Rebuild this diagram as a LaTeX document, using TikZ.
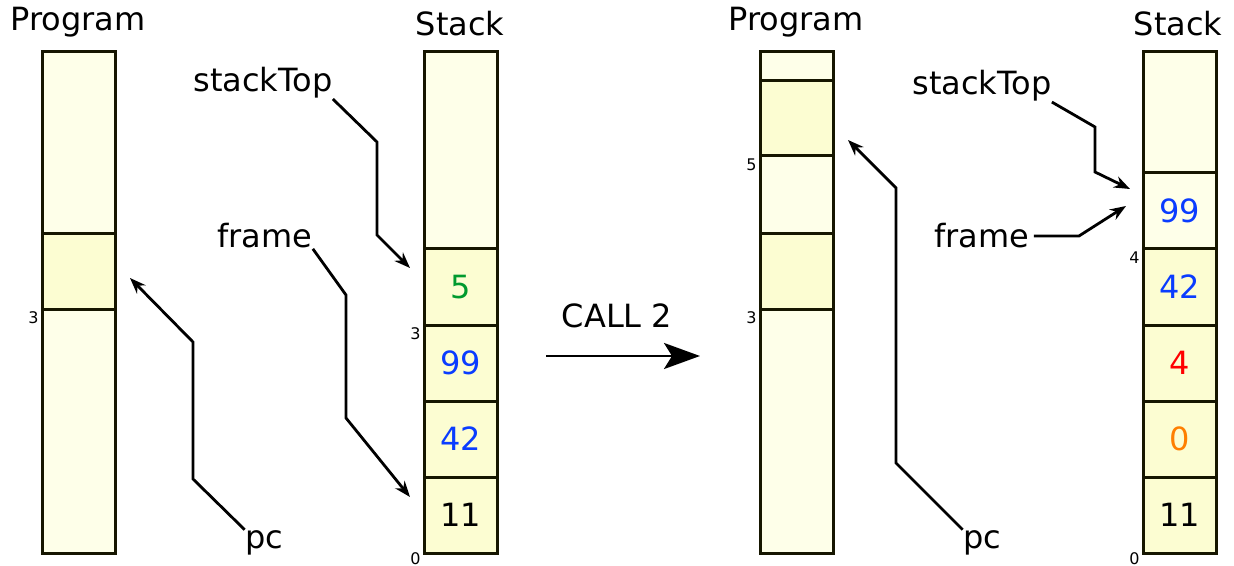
\documentclass[tikz,border=0pt]{standalone}
\usepackage{fontspec}
\setmainfont{DejaVu Sans}
\usetikzlibrary{arrows.meta,positioning}
\definecolor{slotpale}{HTML}{FEFFE9}
\definecolor{slotfill}{HTML}{FCFDD2}
\definecolor{slotline}{HTML}{161600}
\definecolor{valgreen}{HTML}{009A2E}
\definecolor{valblue}{HTML}{0A3CFF}
\definecolor{valred}{HTML}{FF0000}
\definecolor{valorange}{HTML}{FF7F00}

\begin{document}
\begin{tikzpicture}[x=0.5pt,y=-0.5pt,
    bar/.style={fill=slotpale,draw=slotline,line width=1.5pt},
    band/.style={fill=slotfill,draw=slotline,line width=1.5pt},
    cell/.style={fill=slotfill,draw=slotline,line width=1.5pt,minimum width=36.5pt,
        minimum height=38pt,inner sep=0pt,font=\fontsize{16}{19}\selectfont},
    title/.style={anchor=base,inner sep=0pt,font=\fontsize{16}{19}\selectfont},
    idx/.style={anchor=north east,inner sep=0.5pt,font=\fontsize{8}{9}\selectfont},
    ptr/.style={line width=1.4pt,-{Stealth[length=8pt,width=6pt]}},
    bigptr/.style={line width=1.4pt,-{Stealth[length=18pt,width=13pt,inset=4pt]}}]
    \useasboundingbox (0,0) rectangle (1234,566);

    % before the call
    \node[title] (lprog) at (78,31) {Program};
    \draw[bar] (42,52) rectangle (115,553);
    \draw[band] (42,234) rectangle (115,309);
    \node[idx] (lprog3) at (40,310) {3};

    \node[title] (lstack) at (460,36) {Stack};
    \draw[bar] (424,52) rectangle (497,553);
    \node[cell,text=valgreen] (ls3) at (460.5,287) {5};
    \node[cell,text=valblue] (ls2) at (460.5,363) {99};
    \node[cell,text=valblue] (ls1) at (460.5,439) {42};
    \node[cell] (ls0) at (460.5,515) {11};
    \node[idx] (lstk3) at (422,326) {3};
    \node[idx] (lstk0) at (422,551) {0};

    \node[title] (ltop) at (263,92) {stackTop};
    \node[title] (lframe) at (265,248) {frame};
    \node[title] (lpc) at (264,548) {pc};
    \coordinate (ltopend) at (410,268);
    \coordinate (lframeend) at (410,497);
    \coordinate (lpcend) at (130,278);
    \draw[ptr] (ltop.south east) -- (377,142) -- (377,235) -- (ltopend);
    \draw[ptr] (lframe.south east) -- (346,295) -- (346,418) -- (lframeend);
    \draw[ptr] (lpc.north west) -- (193,479) -- (193,342) -- (lpcend);

    % the call
    \node[title] (call) at (617,327) {CALL 2};
    \coordinate (callfrom) at (546,356);
    \coordinate (callto) at (700,356);
    \draw[bigptr] (callfrom) -- (callto);

    % after the call
    \node[title] (rprog) at (796,31) {Program};
    \draw[bar] (760,52) rectangle (833,553);
    \draw[band] (760,81) rectangle (833,156);
    \draw[band] (760,234) rectangle (833,309);
    \node[idx] (rprog5) at (758,157) {5};
    \node[idx] (rprog3) at (758,310) {3};

    \node[title] (rstack) at (1178,36) {Stack};
    \draw[bar] (1143,52) rectangle (1216,553);
    \node[cell,fill=slotpale,text=valblue] (rs4) at (1179.5,211) {99};
    \node[cell,text=valblue] (rs3) at (1179.5,287) {42};
    \node[cell,text=valred] (rs2) at (1179.5,363) {4};
    \node[cell,text=valorange] (rs1) at (1179.5,439) {0};
    \node[cell] (rs0) at (1179.5,515) {11};
    \node[idx] (rstk4) at (1141,250) {4};
    \node[idx] (rstk0) at (1141,551) {0};

    \node[title] (rtop) at (982,95) {stackTop};
    \node[title] (rframe) at (982,248) {frame};
    \node[title] (rpc) at (982,548) {pc};
    \coordinate (rtopend) at (1130,189);
    \coordinate (rframeend) at (1126,206);
    \coordinate (rpcend) at (848,140);
    \draw[ptr] (rtop.south east) -- (1095,127) -- (1095,172) -- (rtopend);
    \draw[ptr] (rframe.east) ++(4,0) -- ++(45,0) -- (rframeend);
    \draw[ptr] (rpc.north west) -- (896,463) -- (896,188) -- (rpcend);
\end{tikzpicture}
\end{document}
